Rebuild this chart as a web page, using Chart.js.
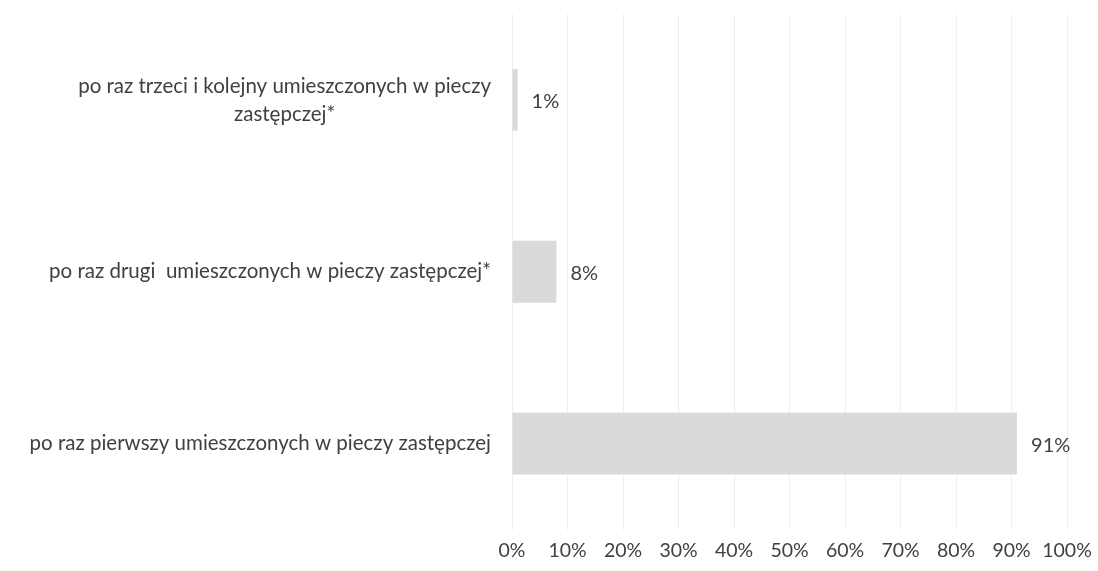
<!DOCTYPE html>
<html>
<head>
<meta charset="utf-8">
<script src="https://cdn.jsdelivr.net/npm/chart.js@4"></script>
<style>
html,body{margin:0;padding:0;background:#fff;}
#wrap{width:1098px;height:571px;position:relative;}
</style>
</head>
<body>
<div id="wrap"><canvas id="c"></canvas></div>
<script>
const categories = [
  ["po raz trzeci i kolejny umieszczonych w pieczy", "zastępczej*"],
  ["po raz drugi  umieszczonych w pieczy zastępczej*"],
  ["po raz pierwszy umieszczonych w pieczy zastępczej"]
];
const values = [1, 8, 91];
const valueLabels = ["1%", "8%", "91%"];
const xTicks = [0, 10, 20, 30, 40, 50, 60, 70, 80, 90, 100];

const FONT = "Lato, 'Open Sans', sans-serif";
const TEXT = '#404040';

const labelPlugin = {
  id: 'customLabels',
  afterDraw(chart) {
    const ctx = chart.ctx;
    const yScale = chart.scales.y;
    const area = chart.chartArea;
    ctx.save();
    ctx.fillStyle = TEXT;
    ctx.textBaseline = 'middle';
    ctx.font = "20.5px " + FONT;
    categories.forEach((lines, i) => {
      const yc = yScale.getPixelForTick(i);
      const widths = lines.map(l => ctx.measureText(l).width);
      const blockW = Math.max(...widths);
      const right = area.left - 21;
      const cx = right - blockW / 2;
      const lh = 28;
      const y0 = yc - (lines.length - 1) * lh / 2;
      ctx.textAlign = 'center';
      lines.forEach((l, j) => ctx.fillText(l, cx, y0 + j * lh));
    });
    ctx.font = "20px " + FONT;
    const meta = chart.getDatasetMeta(0);
    ctx.textAlign = 'left';
    meta.data.forEach((bar, i) => {
      ctx.fillText(valueLabels[i], bar.x + 14, bar.y + 2);
    });
    ctx.restore();
  }
};

new Chart(document.getElementById('c'), {
  type: 'bar',
  data: {
    labels: categories,
    datasets: [{
      data: values,
      backgroundColor: '#dadada',
      borderWidth: 0,
      barPercentage: 0.6,
      categoryPercentage: 0.6
    }]
  },
  options: {
    indexAxis: 'y',
    responsive: true,
    maintainAspectRatio: false,
    animation: false,
    layout: { padding: { left: 512, right: 31, top: 14, bottom: 0 } },
    plugins: { legend: { display: false }, tooltip: { enabled: false } },
    scales: {
      x: {
        min: 0, max: 100,
        afterBuildTicks(scale) { scale.ticks = xTicks.map(v => ({ value: v })); },
        afterFit(scale) { scale.paddingLeft = 0; scale.paddingRight = 0; },
        ticks: {
          callback: v => v + '%',
          color: TEXT,
          font: { family: FONT, size: 19.5 },
          padding: 9,
          maxRotation: 0,
          autoSkip: false
        },
        grid: { color: '#eeeeee', lineWidth: 1, drawTicks: false },
        border: { display: false }
      },
      y: {
        display: false
      }
    }
  },
  plugins: [labelPlugin]
});
</script>
</body>
</html>
